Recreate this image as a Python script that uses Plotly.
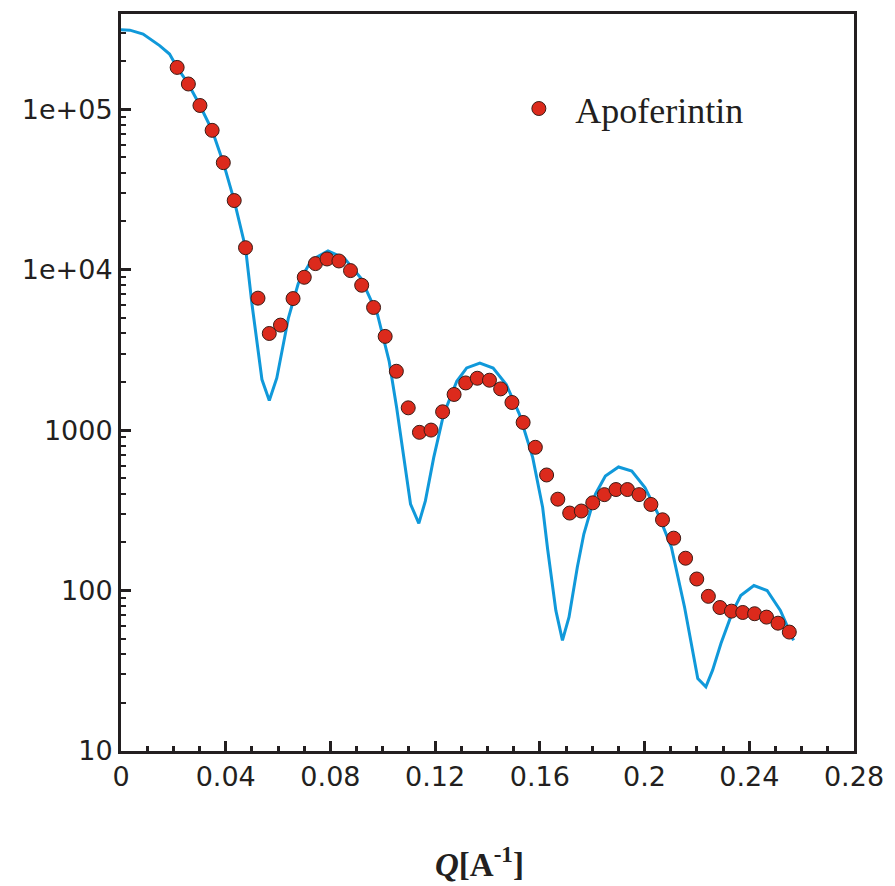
import plotly.graph_objects as go

# Measured data (Apoferintin)
q_data = [0.02145, 0.02573, 0.03016, 0.03481, 0.03908, 0.04325, 0.04756, 0.05233,
          0.05664, 0.06092, 0.06572, 0.07000, 0.07427, 0.07870, 0.08324, 0.08767,
          0.09194, 0.09648, 0.10091, 0.10518, 0.10972, 0.11400, 0.11843, 0.12285,
          0.12724, 0.13167, 0.13610, 0.14075, 0.14502, 0.14934, 0.15361, 0.15827,
          0.16258, 0.16686, 0.17140, 0.17582, 0.18021, 0.18464, 0.18907, 0.19345,
          0.19788, 0.20242, 0.20685, 0.21112, 0.21566, 0.21994, 0.22437, 0.22879,
          0.23318, 0.23750, 0.24203, 0.24657, 0.25096, 0.25528]
i_data = [182000, 143500, 105400, 73800, 46400, 26950, 13700, 6640,
          4000, 4510, 6600, 8960, 10900, 11650, 11320, 9860,
          7990, 5810, 3835, 2325, 1376, 968, 1000, 1300,
          1667, 1967, 2104, 2045, 1806, 1486, 1116, 781,
          525, 371, 304, 313, 352, 396, 426, 426,
          396, 344, 276, 212, 159, 118, 92, 78.4,
          74.4, 73.0, 71.7, 68.3, 62.6, 55.1]

# Model curve
q_fit = [0.0, 0.0034, 0.00844, 0.01476, 0.01854, 0.02145, 0.02573, 0.03016, 0.03481,
         0.03908, 0.04325, 0.04756, 0.05006, 0.05384, 0.05664, 0.05952, 0.06394,
         0.06773, 0.07276, 0.07908, 0.08540, 0.09168, 0.09800, 0.10242, 0.10530,
         0.11060, 0.11377, 0.11627, 0.11945, 0.12323, 0.12826, 0.13205, 0.13708,
         0.14215, 0.14718, 0.15221, 0.15728, 0.16107, 0.16296, 0.16610, 0.16863,
         0.17113, 0.17431, 0.17680, 0.18123, 0.18502, 0.19005, 0.19512, 0.20015,
         0.20518, 0.21025, 0.21528, 0.22032, 0.22342, 0.22599, 0.22917, 0.23356,
         0.23674, 0.24177, 0.24680, 0.25187, 0.25690]
i_fit = [312600, 310800, 293700, 248800, 220600, 182000, 143500, 105400, 73800,
         46400, 26950, 13700, 6040, 2065, 1528, 2114, 4990,
         8220, 11480, 13060, 11750, 8830, 5240, 2690, 1377,
         346, 262, 362, 673, 1253, 2014, 2438, 2618,
         2438, 1923, 1253, 673, 329, 181.6, 75.2, 48.9,
         68.2, 139.6, 225, 399, 518, 589, 556, 439,
         299, 186, 78.7, 28.3, 25.1, 31.9, 46.7, 73.3,
         93.1, 107.4, 100, 75.2, 48.9]

y_tickvals = [10, 100, 1000, 10000, 100000]
y_ticktext = ["10", "100", "1000", "1e+04", "1e+05"]
x_tickvals = [0, 0.04, 0.08, 0.12, 0.16, 0.2, 0.24, 0.28]
x_ticktext = ["0", "0.04", "0.08", "0.12", "0.16", "0.2", "0.24", "0.28"]

axis_color = "#231f20"
y_minor = [m * 10 ** d for d in range(1, 6) for m in range(2, 10) if m * 10 ** d < 4e5]

fig = go.Figure()
fig.add_trace(go.Scatter(
    x=q_fit, y=i_fit, mode="lines", showlegend=False,
    line=dict(color="#1099da", width=3),
))
fig.add_trace(go.Scatter(
    x=q_data, y=i_data, mode="markers", name="Apoferintin",
    marker=dict(color="#dc2a1c", size=14, line=dict(color="#3b1c16", width=1)),
))

fig.update_layout(
    width=895, height=886,
    margin=dict(l=121, r=34, t=11, b=135),
    paper_bgcolor="white", plot_bgcolor="white",
    font=dict(family="DejaVu Sans", color=axis_color),
    showlegend=True,
    legend=dict(
        x=(506 - 121) / 740, y=(751 - 106) / 740, xanchor="left", yanchor="middle",
        bgcolor="rgba(0,0,0,0)", itemwidth=63,
        font=dict(family="Liberation Serif, Times New Roman", size=36, color=axis_color),
    ),
    annotations=[dict(
        text="<b><i>Q</i>[A<sup>-1</sup>]</b>",
        xref="paper", yref="paper", x=(483 - 121) / 740, y=-(862 - 751) / 740,
        xanchor="center", yanchor="middle", showarrow=False,
        font=dict(family="Liberation Serif, Times New Roman", size=33, color=axis_color),
    )],
)

fig.update_xaxes(
    range=[0, 0.28], tickmode="array", tickvals=x_tickvals, ticktext=x_ticktext,
    showline=True, linecolor=axis_color, linewidth=3, mirror=True,
    ticks="inside", ticklen=10, tickwidth=3, tickcolor=axis_color,
    showgrid=False, zeroline=False,
    tickfont=dict(family="DejaVu Sans", size=27, color=axis_color),
    minor=dict(ticks="inside", dtick=0.01, tick0=0, ticklen=5, tickwidth=3,
               tickcolor=axis_color, showgrid=False),
)
fig.update_yaxes(
    type="log", range=[1, 5.593], tickmode="array", tickvals=y_tickvals, ticktext=y_ticktext,
    showline=True, linecolor=axis_color, linewidth=3, mirror=True,
    ticks="inside", ticklen=10, tickwidth=3, tickcolor=axis_color,
    showgrid=False, zeroline=False,
    tickfont=dict(family="DejaVu Sans", size=27, color=axis_color),
    minor=dict(ticks="inside", tickmode="array", tickvals=y_minor, ticklen=5, tickwidth=2,
               tickcolor=axis_color, showgrid=False),
)

fig.write_html("out.html")
